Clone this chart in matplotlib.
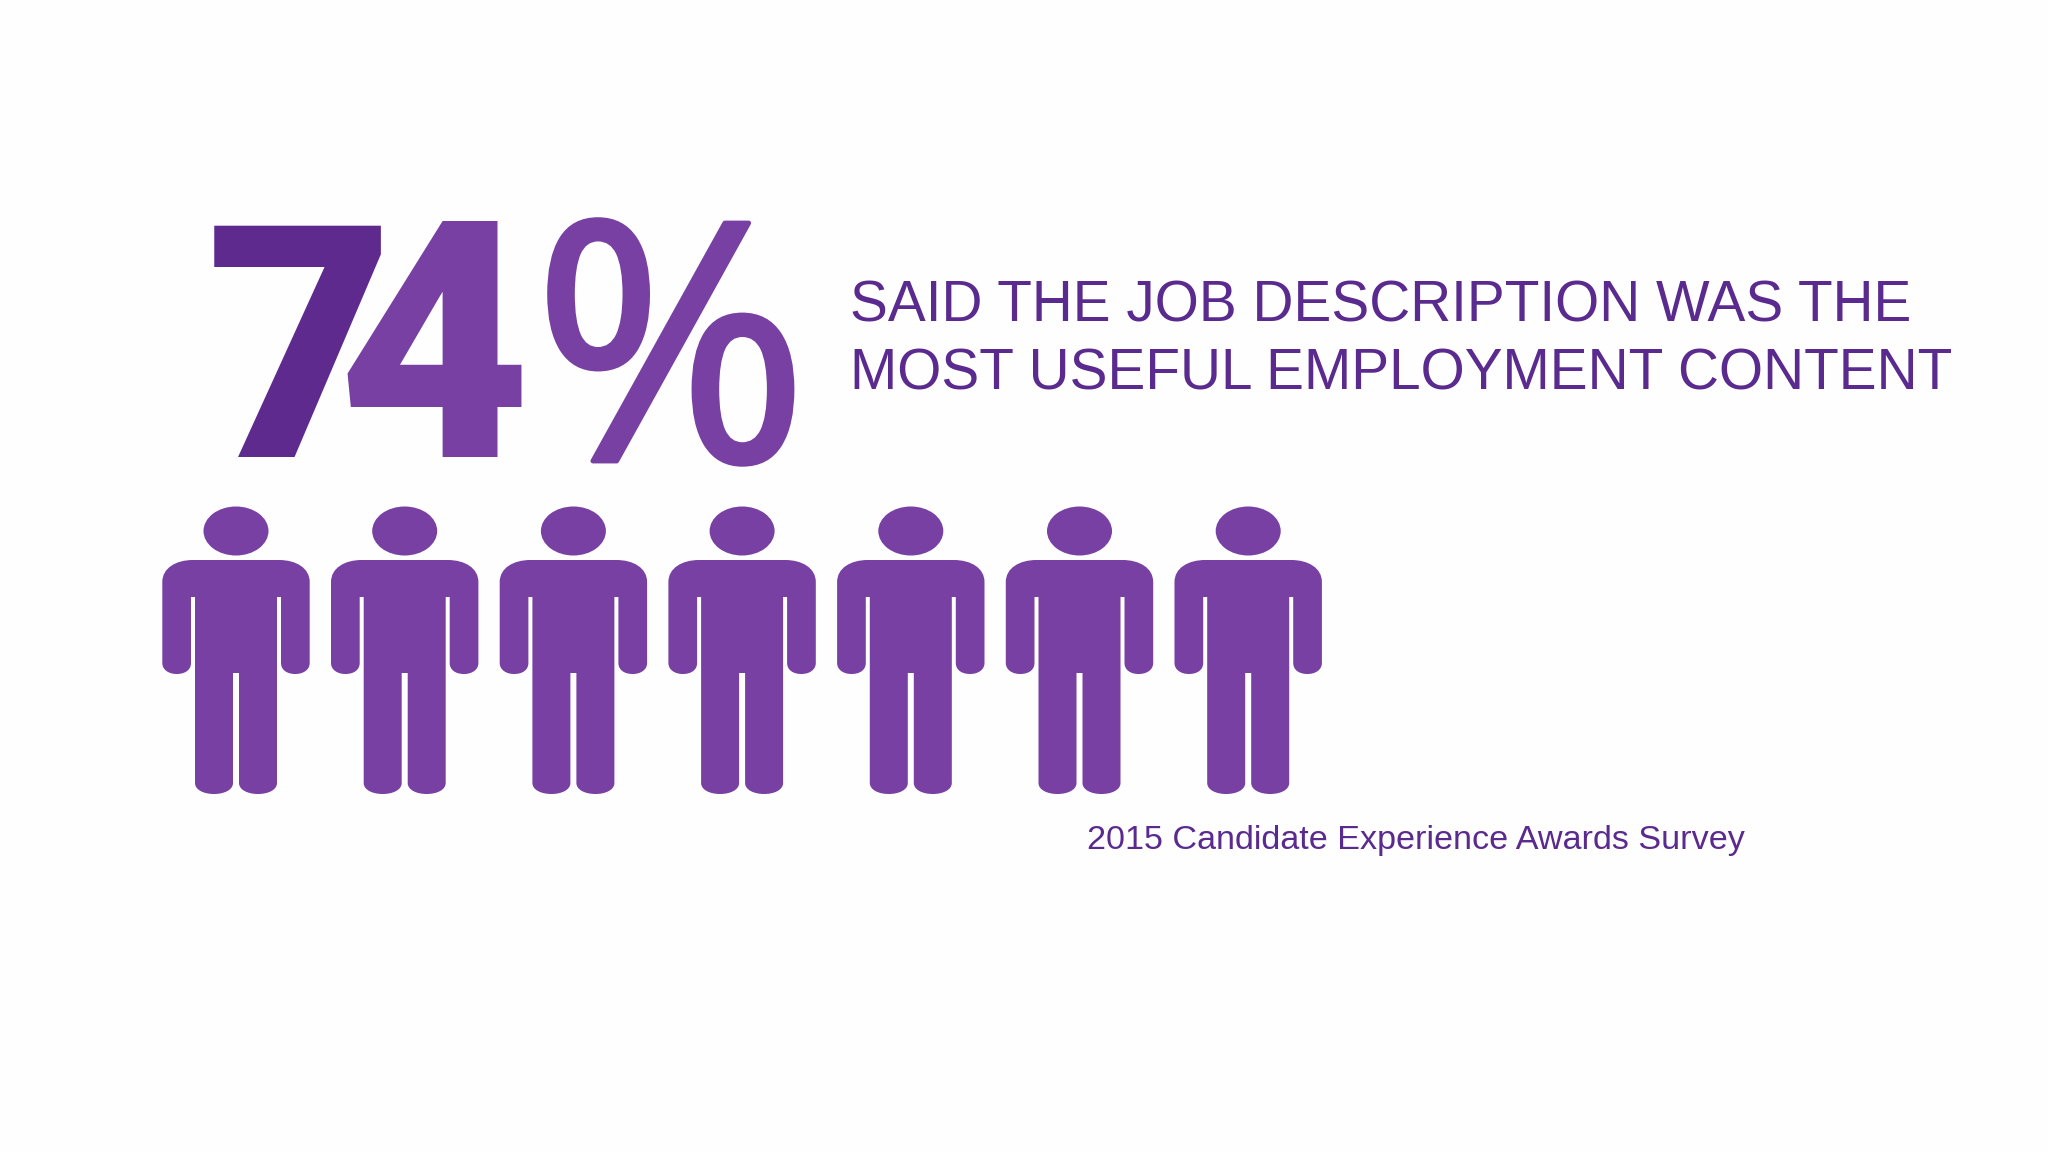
import numpy as np
import matplotlib
matplotlib.use('Agg')
import matplotlib.pyplot as plt
from matplotlib.path import Path
from matplotlib.patches import PathPatch, Ellipse
import matplotlib.patheffects as pe

# chart content
percent_digits = ['7', '4']
percent_sign = '%'
headline = ['SAID THE JOB DESCRIPTION WAS THE', 'MOST USEFUL EMPLOYMENT CONTENT']
source = '2015 Candidate Experience Awards Survey'
people_filled = 7

dark = '#5f2a8e'
mid = '#7840a2'
txt = '#5a2a8e'

# right half of a person, x from the centre line, y in pixels
half_body = [('L', (43, 560)),
             ('C', (60, 560), (73.7, 568), (73.7, 582)),
             ('L', (73.7, 663)),
             ('C', (73.7, 670), (67, 674), (59.3, 674)),
             ('C', (51, 674), (45, 670), (45, 663)),
             ('L', (45, 597)),
             ('L', (41, 597)),
             ('L', (41, 783)),
             ('C', (41, 790), (32, 794), (22, 794)),
             ('C', (12, 794), (3, 790), (3, 783)),
             ('L', (3, 673))]


def person_path(cx):
    '''
    Build the body outline around the centre cx
    '''
    pts = [(0, 560)]
    codes = [Path.MOVETO]
    for seg in half_body:
        if seg[0] == 'L':
            pts.append(seg[1])
            codes.append(Path.LINETO)
        else:
            pts.extend(seg[1:])
            codes.extend([Path.CURVE4] * 3)
    # mirror the same outline back up the left side
    anchors = [(0, 560)] + [s[-1] for s in half_body]
    for i in range(len(half_body) - 1, -1, -1):
        seg = half_body[i]
        if i == len(half_body) - 1:
            pts.append((-seg[-1][0], seg[-1][1]))
            codes.append(Path.LINETO)
        if seg[0] == 'L':
            pts.append((-anchors[i][0], anchors[i][1]))
            codes.append(Path.LINETO)
        else:
            pts.extend([(-seg[2][0], seg[2][1]), (-seg[1][0], seg[1][1]),
                        (-anchors[i][0], anchors[i][1])])
            codes.extend([Path.CURVE4] * 3)
    pts = np.array(pts, dtype=float)
    pts[:, 0] += cx
    return Path(pts, codes)


fig = plt.figure(figsize=(20.48, 11.52), dpi=100, facecolor='#fefefe')
ax = fig.add_axes([0, 0, 1, 1])
ax.set_xlim(0, 2048)
ax.set_ylim(1152, 0)
ax.axis('off')

# people row
for cx in 236 + 168.7 * np.arange(people_filled):
    ax.add_patch(PathPatch(person_path(cx), fc=mid, ec='none'))
    ax.add_patch(Ellipse((cx, 531), 65, 49, fc=mid, ec='none'))

# big number
ax.text(206, 457, percent_digits[0], family='Roboto', weight=900, fontsize=234,
        color=dark, ha='left', va='baseline')
ax.text(337, 457, percent_digits[1], family='Roboto', weight=900, fontsize=240,
        color=mid, ha='left', va='baseline')
# open sans percent is a bit thin, fatten it with a stroke
ax.text(533, 461, percent_sign, family='Open Sans', fontsize=240, color=mid,
        ha='left', va='baseline',
        path_effects=[pe.withStroke(linewidth=3.5, foreground=mid)])

# headline and source
ax.text(850, 321, headline[0], family='Liberation Sans', fontsize=40.85, color=txt,
        ha='left', va='baseline')
ax.text(850, 389, headline[1], family='Liberation Sans', fontsize=40.85, color=txt,
        ha='left', va='baseline')
ax.text(1087, 849, source, family='Liberation Sans', fontsize=24.6, color=txt,
        ha='left', va='baseline')

fig.savefig('out.png', dpi=100, facecolor=fig.get_facecolor())
